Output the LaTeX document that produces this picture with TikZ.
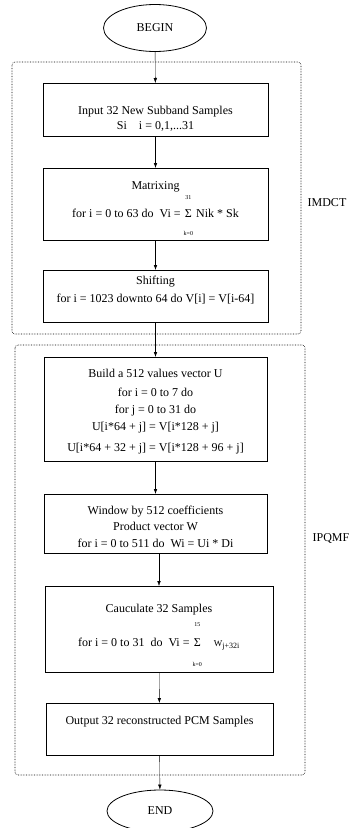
\documentclass[tikz,border=0pt]{standalone}
\usepackage{fontspec}
\setmainfont{Liberation Serif}
\usetikzlibrary{arrows.meta, shapes.geometric}

\newcommand{\sumlim}[3][3pt]{\begin{tabular}[c]{@{}c@{}}{\fontsize{6}{6}\selectfont #2}\\[#1]Σ\\[#1]{\fontsize{6}{6}\selectfont #3}\end{tabular}}

\begin{document}
\begin{tikzpicture}[
    x=1pt, y=-1pt,
    >={Latex[length=5pt, width=3.5pt]},
    box/.style={draw, line width=0.8pt, inner sep=0pt, anchor=north,
                align=center, font=\fontsize{12}{15}\selectfont},
    term/.style={draw, ellipse, line width=0.8pt, inner sep=0pt,
                 font=\fontsize{12}{15}\selectfont},
    group/.style={densely dotted, line width=0.6pt, rounded corners=3pt},
    tag/.style={font=\fontsize{12}{15}\selectfont}
  ]
  \useasboundingbox (0,0) rectangle (359,828);

  \node[term, minimum width=103pt, minimum height=47pt] (begin) at (155,28) {BEGIN};
  \node[box, minimum width=225pt, text height=46pt, text depth=7pt] (input) at (155.5,83)
    {Input 32 New Subband Samples\\Si\quad i = 0,1,...31};
  \node[box, minimum width=225pt, text height=49pt, text depth=23pt] (matrix) at (155.5,168)
    {Matrixing\\[-4pt]for i = 0 to 63 do\ \ Vi = \sumlim{31}{k=0} Nik * Sk};
  \node[box, minimum width=225pt, text height=32pt, text depth=20pt] (shift) at (155.5,270)
    {Shifting\\[3pt]for i = 1023 downto 64 do V[i] = V[i-64]};

  \node[box, minimum width=223pt, text height=94pt, text depth=10pt,
        font=\fontsize{12}{17}\selectfont] (build) at (155.5,357)
    {Build a 512 values vector U\\[2pt]for i = 0 to 7 do\\for j = 0 to 31 do\\U[i*64 + j] = V[i*128 + j]\\[4pt]U[i*64 + 32 + j] = V[i*128 + 96 + j]};
  \node[box, minimum width=223pt, text height=53pt, text depth=6pt] (window) at (155.5,494)
    {Window by 512 coefficients\\[1.5pt]Product vector W\\[1.5pt]for i = 0 to 511 do\ \ Wi = Ui * Di};
  \node[box, minimum width=228pt, text height=60pt, text depth=26pt] (calc) at (159,586)
    {Cauculate 32 Samples\\for i = 0 to 31\ \ do\ \ Vi = \sumlim[5pt]{15}{k=0}\quad{\fontsize{9}{9}\selectfont W}\textsubscript{j+32i}};
  \node[box, minimum width=227pt, text height=21pt, text depth=31pt] (output) at (159.5,703)
    {Output 32 reconstructed PCM Samples};
  \node[term, minimum width=106pt, minimum height=42pt] (end) at (160,811) {END};

  \draw[group] (12,62) rectangle (301,334);
  \draw[group] (15,345) rectangle (305,775);
  \node[tag] (imdct) at (327,203) {IMDCT};
  \node[tag] (ipqmf) at (331,538) {IPQMF};

  \draw[->] (begin) -- (input);
  \draw[->] (input) -- (matrix);
  \draw[->] (matrix) -- (shift);
  \draw[->] (shift) -- (build);
  \draw[->] (build) -- (window);
  \draw[->] (calc.north |- window.south) -- (calc.north);
  \draw[->] (calc) -- (output);
  \draw[->] (output) -- (end);
\end{tikzpicture}
\end{document}
